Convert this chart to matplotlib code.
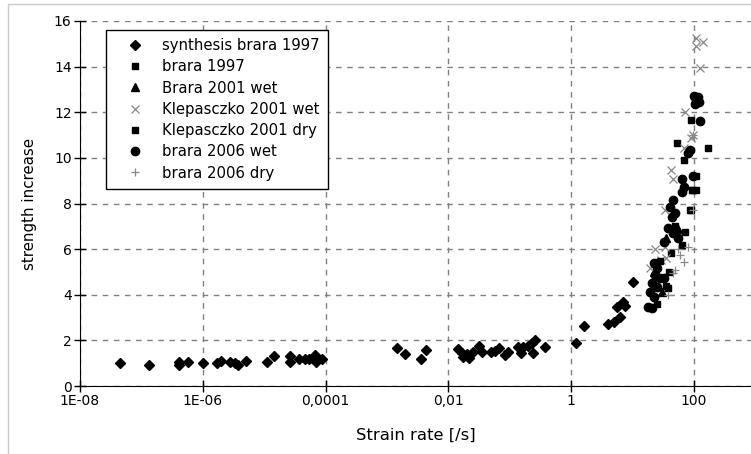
import matplotlib
matplotlib.use("Agg")
import matplotlib.pyplot as plt
from matplotlib.patches import Rectangle

# ── Data ──────────────────────────────────────────────────────────────────────
synth_1997_rate = [4.4e-8, 1.35e-7, 4.1e-7, 4.1e-7, 5.8e-7, 1.0e-6, 1.7e-6, 2.0e-6,
                   2.8e-6, 3.3e-6, 3.8e-6, 5.1e-6, 1.1e-5, 1.45e-5, 2.6e-5, 2.6e-5,
                   3.7e-5, 4.6e-5, 5.4e-5, 6.8e-5, 7.1e-5, 8.9e-5,
                   1.45e-3, 2.0e-3, 3.6e-3, 4.3e-3,
                   1.45e-2, 1.66e-2, 1.74e-2, 2.0e-2, 2.2e-2, 2.5e-2, 3.1e-2, 3.5e-2,
                   4.9e-2, 5.8e-2, 6.8e-2, 8.3e-2, 9.5e-2, 0.138, 0.151, 0.166, 0.20,
                   0.23, 0.24, 0.26, 0.37, 1.2, 1.6, 4.0, 5.0, 6.2, 5.6, 7.1, 7.6, 10.2]
synth_1997_dif = [1.0, 0.92, 1.07, 0.92, 1.07, 1.0, 1.0, 1.1,
                  1.05, 1.0, 0.92, 1.1, 1.05, 1.3, 1.3, 1.07,
                  1.2, 1.17, 1.17, 1.36, 1.07, 1.17,
                  1.65, 1.39, 1.18, 1.58,
                  1.61, 1.43, 1.29, 1.39, 1.24, 1.50, 1.75, 1.50,
                  1.50, 1.55, 1.65, 1.36, 1.48, 1.72, 1.43, 1.72, 1.75,
                  1.90, 1.43, 2.02, 1.72, 1.90, 2.63, 2.72, 2.82, 3.04, 3.48, 3.70, 3.51, 4.57]

brara_1997_rate = [91, 68, 110, 93, 110, 89, 53, 170, 85, 71, 63, 43, 35.5, 38]
brara_1997_dif = [11.67, 9.9, 9.2, 8.6, 8.6, 7.72, 10.64, 10.42, 7.72, 6.77, 6.18, 5.82, 4.4, 4.3]

brara_2001_wet_rate = [56, 35.5, 22.4, 30]
brara_2001_wet_dif = [6.9, 6.5, 5.0, 4.1]

klep_2001_wet_rate = [110, 141, 110, 126, 71, 95, 91, 69, 42, 46, 34, 23.5, 29.5, 35.5, 19, 34]
klep_2001_wet_dif = [15.25, 15.1, 14.9, 13.96, 11.99, 11.0, 10.86, 10.42, 9.47, 9.07,
                     7.72, 6.0, 5.53, 5.6, 5.16, 6.11]

klep_2001_dry_rate = [95, 50, 28, 25, 40]
klep_2001_dry_dif = [8.6, 7.0, 5.5, 3.6, 5.0]

brara_2006_wet_rate = [110, 100, 120, 105, 115, 126, 85, 81, 98, 63, 68, 63, 46, 41, 49,
                       44, 38, 46, 55, 32, 22, 25, 23.5, 28, 20.4, 25, 19, 22, 18.2, 20.4, 32]
brara_2006_wet_dif = [12.55, 12.7, 12.45, 12.35, 12.65, 11.6, 10.35, 10.2, 9.2, 9.07, 8.74,
                      8.52, 8.16, 7.86, 7.57, 7.4, 6.92, 6.7, 6.48, 6.33, 5.38, 5.16, 4.87,
                      4.72, 4.50, 4.36, 4.14, 3.92, 3.48, 3.41, 4.72]

brara_2006_dry_rate = [59, 68, 49, 46, 81, 38, 98, 95, 56]
brara_2006_dry_dif = [5.75, 5.45, 5.09, 4.94, 6.11, 3.99, 7.72, 11.0, 6.0]

x_ticks = [1e-8, 1e-6, 1e-4, 1e-2, 1, 100]
x_tick_labels = ["1E-08", "1E-06", "0,0001", "0,01", "1", "100"]
y_ticks = [0, 2, 4, 6, 8, 10, 12, 14, 16]

# ── Figure ────────────────────────────────────────────────────────────────────
plt.rcParams["font.family"] = "DejaVu Sans"
plt.rcParams["font.size"] = 10

fig = plt.figure(figsize=(7.51, 4.54), dpi=100)
# thin grey frame of the original widget (left and top edges visible)
fig.patches.append(Rectangle((8 / 751, -0.1), 1.2, 1.1 - 4 / 454,
                             transform=fig.transFigure, fill=False,
                             edgecolor="#c8c8c8", linewidth=1.0))
ax = fig.add_axes([80 / 751, 68 / 454, 671 / 751, 365 / 454])

ax.plot(synth_1997_rate, synth_1997_dif, "D", color="black", ms=5.2, ls="none",
        label="synthesis brara 1997")
ax.plot(brara_1997_rate, brara_1997_dif, "s", color="black", ms=5, ls="none",
        label="brara 1997")
ax.plot(brara_2001_wet_rate, brara_2001_wet_dif, "^", color="black", ms=5.5, ls="none",
        label="Brara 2001 wet")
ax.plot(klep_2001_wet_rate, klep_2001_wet_dif, "x", color="#888888", ms=6, mew=0.9,
        ls="none", label="Klepasczko 2001 wet")
ax.plot(klep_2001_dry_rate, klep_2001_dry_dif, "s", color="black", ms=4, ls="none",
        label="Klepasczko 2001 dry")
ax.plot(brara_2006_wet_rate, brara_2006_wet_dif, "o", color="black", ms=6, ls="none",
        label="brara 2006 wet")
ax.plot(brara_2006_dry_rate, brara_2006_dry_dif, "+", color="#888888", ms=6, mew=0.9,
        ls="none", label="brara 2006 dry")

ax.set_xscale("log")
ax.set_xlim(1e-8, 10 ** 2.93)
ax.set_ylim(0, 16)
ax.set_xticks(x_ticks)
ax.set_xticklabels(x_tick_labels)
ax.minorticks_off()
ax.set_yticks(y_ticks)
ax.tick_params(direction="inout", length=8, width=1, labelsize=10, pad=2)

ax.grid(True, color="#808080", linestyle=(0, (4, 4)), linewidth=1)
ax.set_axisbelow(True)
ax.spines["top"].set_visible(False)
ax.spines["right"].set_visible(False)

ax.set_xlabel("Strain rate [/s]", fontsize=11.8, labelpad=14)
ax.set_ylabel("strength increase", fontsize=10.8, labelpad=12)

leg = ax.legend(loc="upper left", bbox_to_anchor=(26 / 671, 356 / 365),
                borderaxespad=0, numpoints=1, fancybox=False, framealpha=1,
                edgecolor="black", fontsize=10.7, borderpad=0.55, handlelength=2.8,
                handletextpad=0.45, labelspacing=0.42)
leg.get_frame().set_linewidth(1.0)

fig.savefig("out.png", dpi=100)
